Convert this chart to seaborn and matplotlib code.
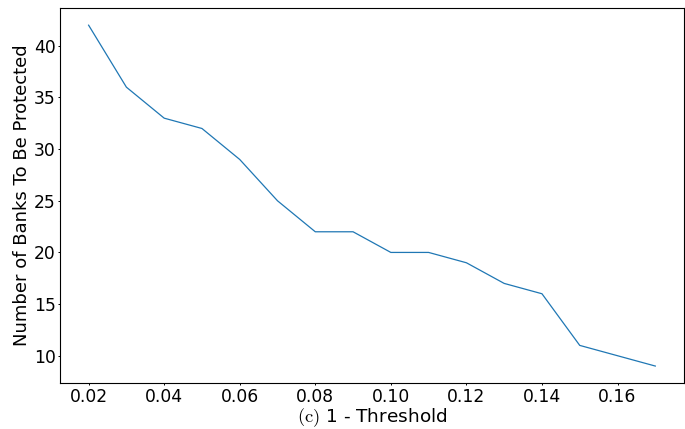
#!/usr/bin/env python

import numpy as np
import pandas as pd
import seaborn as sns
from matplotlib import pyplot as plt

plt.rcParams['mathtext.fontset'] = 'cm'

# 1 - threshold vs. number of banks to protect
one_minus_threshold = [0.02, 0.03, 0.04, 0.05, 0.06, 0.07, 0.08, 0.09,
                       0.10, 0.11, 0.12, 0.13, 0.14, 0.15, 0.16, 0.17]
num_banks = [42, 36, 33, 32, 29, 25, 22, 22, 20, 20, 19, 17, 16, 11, 10, 9]

df = pd.DataFrame({"x": one_minus_threshold, "banks": num_banks})

fig, ax = plt.subplots(figsize=(6.85, 4.29), dpi=100)
sns.lineplot(data=df, x="x", y="banks", ax=ax, color="#1f77b4", linewidth=0.9)
ax.set_xticks([0.02, 0.04, 0.06, 0.08, 0.10, 0.12, 0.14, 0.16])
ax.set_xlabel(r"$\mathrm{(c)}$ 1 - Threshold", fontsize=13.3, labelpad=0.5)
ax.set_ylabel("Number of Banks To Be Protected", fontsize=13, labelpad=2)
ax.tick_params(labelsize=12.3, length=1.3, width=0.7, pad=2)
for s in ax.spines.values():
    s.set_linewidth(0.8)
plt.subplots_adjust(left=0.088, right=0.998, top=0.981, bottom=0.107)
plt.savefig("out.png")
plt.close(fig)
